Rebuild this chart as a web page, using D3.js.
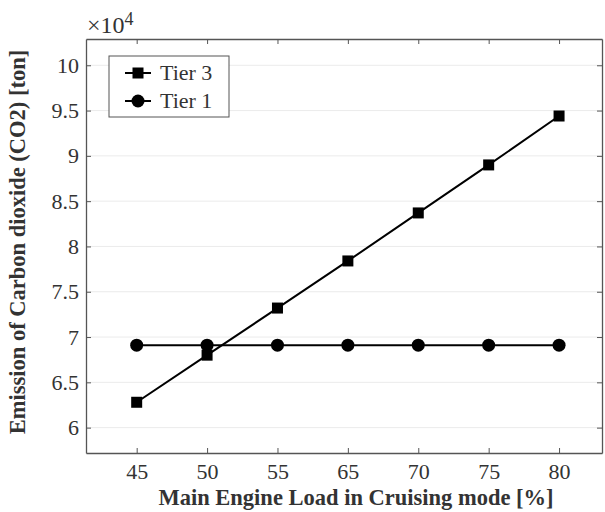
<!DOCTYPE html>
<html>
<head>
<meta charset="utf-8">
<script src="https://cdn.jsdelivr.net/npm/d3@7"></script>
<style>
body { margin: 0; background: #fff; }
svg text { font-family: "Liberation Serif", "Times New Roman", serif; fill: #333; }
</style>
</head>
<body>
<div id="chart-area"></div>
<script>
// data
var loads = ["45", "50", "55", "65", "70", "75", "80"];
var tier3 = [62800, 68000, 73200, 78400, 83700, 89000, 94400];
var tier1 = [69100, 69100, 69100, 69100, 69100, 69100, 69100];
var yTicks = [60000, 65000, 70000, 75000, 80000, 85000, 90000, 95000, 100000];

var width = 605, height = 512;
var margin = {top: 39, right: 3, bottom: 59, left: 86};
var w = width - margin.left - margin.right;
var h = height - margin.top - margin.bottom;

var svg = d3.select("#chart-area").append("svg")
    .attr("width", width)
    .attr("height", height);

var g = svg.append("g")
    .attr("transform", "translate(" + margin.left + "," + margin.top + ")");

// x is by position, 60 is missing in the data so points sit evenly
var x = d3.scaleLinear().domain([0.28, 7.61]).range([0, w]);
var y = d3.scaleLinear().domain([57200, 102900]).range([h, 0]);

// grid
g.selectAll(".grid").data(yTicks).enter().append("line")
    .attr("class", "grid")
    .attr("x1", 0).attr("x2", w)
    .attr("y1", d => y(d)).attr("y2", d => y(d))
    .attr("stroke", "#ebebeb")
    .attr("stroke-width", 1);

// axes
var xAxis = d3.axisBottom(x).tickValues(d3.range(1, 8))
    .tickFormat(d => loads[d - 1]).tickSizeInner(-5).tickSizeOuter(0).tickPadding(10);
var xg = g.append("g").attr("transform", "translate(0," + h + ")").call(xAxis);
var xTop = d3.axisTop(x).tickValues(d3.range(1, 8)).tickFormat("").tickSizeInner(-5).tickSizeOuter(0);
var xg2 = g.append("g").call(xTop);

var yAxis = d3.axisLeft(y).tickValues(yTicks)
    .tickFormat(d => d / 10000).tickSizeInner(-5).tickSizeOuter(0).tickPadding(7);
var yg = g.append("g").call(yAxis);
var yRight = d3.axisRight(y).tickValues(yTicks).tickFormat("").tickSizeInner(-5).tickSizeOuter(0);
var yg2 = g.append("g").attr("transform", "translate(" + w + ",0)").call(yRight);

[xg, xg2, yg, yg2].forEach(a => {
    a.attr("font-family", "Liberation Serif").attr("font-size", 22);
    a.select(".domain").attr("stroke", "#555").attr("stroke-width", 1.3);
    a.selectAll(".tick line").attr("stroke", "#555");
    a.selectAll("text").attr("fill", "#333");
});

// lines
var line = d3.line().x((d, i) => x(i + 1)).y(d => y(d));

g.append("path").datum(tier3)
    .attr("d", line).attr("fill", "none")
    .attr("stroke", "#000").attr("stroke-width", 2);
g.append("path").datum(tier1)
    .attr("d", line).attr("fill", "none")
    .attr("stroke", "#000").attr("stroke-width", 2);

g.selectAll(".sq").data(tier3).enter().append("rect")
    .attr("class", "sq")
    .attr("x", (d, i) => x(i + 1) - 5.5)
    .attr("y", d => y(d) - 5.5)
    .attr("width", 11).attr("height", 11)
    .attr("fill", "#000");

g.selectAll(".dot").data(tier1).enter().append("circle")
    .attr("class", "dot")
    .attr("cx", (d, i) => x(i + 1))
    .attr("cy", d => y(d))
    .attr("r", 6.5)
    .attr("fill", "#000");

// exponent
var ex = svg.append("text").attr("x", 87).attr("y", 33).style("font-size", "24px");
ex.append("tspan").text("\u00d710");
ex.append("tspan").attr("dy", -8).style("font-size", "18px").text("4");

// legend
var lg = svg.append("g").attr("transform", "translate(109,56)");
lg.append("rect").attr("width", 120).attr("height", 61)
    .attr("fill", "#fff").attr("stroke", "#555").attr("stroke-width", 1);
var entries = [{name: "Tier 3", shape: "sq"}, {name: "Tier 1", shape: "dot"}];
entries.forEach((e, i) => {
    var cy = 17 + i * 28;
    lg.append("line").attr("x1", 16).attr("x2", 42).attr("y1", cy).attr("y2", cy)
        .attr("stroke", "#000").attr("stroke-width", 2);
    if (e.shape == "sq") {
        lg.append("rect").attr("x", 29 - 5.5).attr("y", cy - 5.5)
            .attr("width", 11).attr("height", 11).attr("fill", "#000");
    } else {
        lg.append("circle").attr("cx", 29).attr("cy", cy).attr("r", 6.5).attr("fill", "#000");
    }
    lg.append("text").attr("x", 51).attr("y", cy + 7).style("font-size", "22px").text(e.name);
});

// axis labels
svg.append("text")
    .attr("x", 356).attr("y", 505)
    .attr("text-anchor", "middle")
    .style("font-size", "22.5px").style("font-weight", "bold")
    .text("Main Engine Load in Cruising mode [%]");

svg.append("text")
    .attr("transform", "translate(25,242) rotate(-90)")
    .attr("text-anchor", "middle")
    .style("font-size", "22.5px").style("font-weight", "bold")
    .text("Emission of Carbon dioxide (CO2) [ton]");
</script>
</body>
</html>
